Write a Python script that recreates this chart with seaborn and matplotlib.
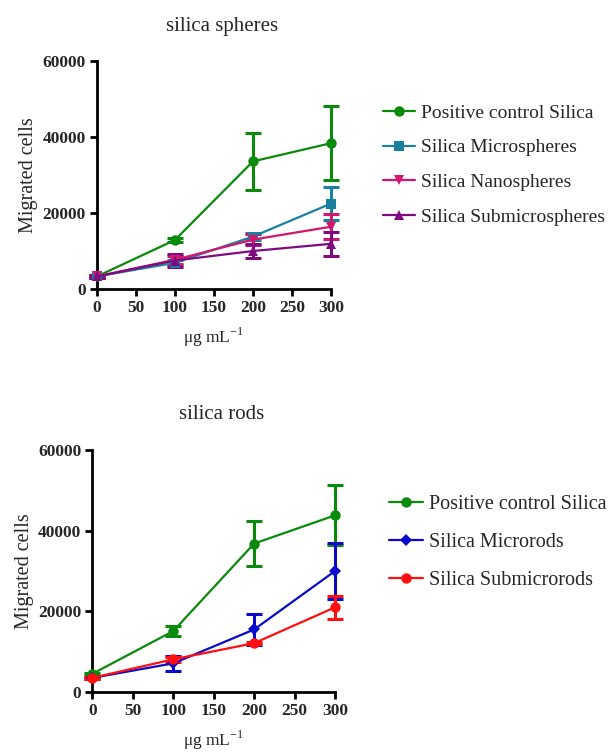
import matplotlib
matplotlib.use("Agg")
import matplotlib.pyplot as plt
import seaborn as sns
import pandas as pd
import numpy as np

# ---- data ----
doses = [0, 100, 200, 300]

sph_names = ["Positive control Silica", "Silica Microspheres", "Silica Nanospheres", "Silica Submicrospheres"]
sph_control = [3300, 12900, 33600, 38400]
sph_control_err = [300, 500, 7500, 9700]
sph_micro = [3300, 6900, 13800, 22500]
sph_micro_err = [300, 700, 1000, 4300]
sph_nano = [3300, 7700, 13000, 16400]
sph_nano_err = [300, 1000, 1500, 3300]
sph_submicro = [3300, 7500, 10000, 11900]
sph_submicro_err = [300, 1800, 1800, 3100]

rod_names = ["Positive control Silica", "Silica Microrods", "Silica Submicrorods"]
rod_control = [4500, 15100, 36800, 43800]
rod_control_err = [300, 1200, 5600, 7400]
rod_micro = [3500, 7100, 15500, 30000]
rod_micro_err = [300, 1900, 3800, 7000]
rod_submicro = [3500, 8100, 12100, 21000]
rod_submicro_err = [300, 600, 300, 2800]

sph_colors = ["#0a8a0a", "#1a80a0", "#d4166f", "#800a80"]
sph_markers = ["o", "s", "v", "^"]
rod_colors = ["#0a8a0a", "#0a0acc", "#ff1010"]
rod_markers = ["o", "D", "o"]

sns.set_theme(style="ticks")
plt.rcParams["font.family"] = ["Liberation Serif", "DejaVu Serif"]
plt.rcParams["mathtext.fontset"] = "custom"
plt.rcParams["mathtext.rm"] = "Liberation Serif"

fig = plt.figure(figsize=(6.13, 7.52), dpi=100)
ax1 = fig.add_axes([0.158, 0.6157, 0.382, 0.303])
ax2 = fig.add_axes([0.1506, 0.0798, 0.396, 0.3218])


def draw(ax, names, vals, errs, colors, markers, title, legend_xy, msizes, lspace, lfs):
    rows = []
    for n, v in zip(names, vals):
        for d, y in zip(doses, v):
            rows.append({"dose": d, "cells": y, "series": n})
    df = pd.DataFrame(rows)
    for n, v, e, c in zip(names, vals, errs, colors):
        ax.errorbar(doses, v, yerr=e, fmt="none", ecolor=c, elinewidth=2.2,
                    capsize=6, capthick=2.2, clip_on=False, zorder=2)
    n_before = len(ax.lines)
    sns.lineplot(data=df, x="dose", y="cells", hue="series", style="series",
                 palette=dict(zip(names, colors)), markers=dict(zip(names, markers)),
                 dashes=False, ax=ax, linewidth=1.6, markeredgewidth=0,
                 errorbar=None, legend=False, zorder=3)
    for line, ms in zip(ax.lines[n_before:], msizes):
        line.set_markersize(ms)
        line.set_clip_on(False)
    ax.set_xlim(0, 300)
    ax.set_ylim(0, 60000)
    ax.set_xticks([0, 50, 100, 150, 200, 250, 300])
    ax.set_yticks([0, 20000, 40000, 60000])
    for s in ["top", "right"]:
        ax.spines[s].set_visible(False)
    for s in ["left", "bottom"]:
        ax.spines[s].set_linewidth(2)
        ax.spines[s].set_color("black")
    ax.tick_params(axis="both", width=2, length=5, color="black", labelsize=12.5, pad=3)
    for lab in ax.get_xticklabels() + ax.get_yticklabels():
        lab.set_fontweight("bold")
    ax.set_title(title, fontsize=15, pad=22, x=0.534)
    ax.set_xlabel("μg mL$^{\\mathregular{-1}}$", fontsize=12.5, labelpad=7)
    ax.set_ylabel("Migrated cells", fontsize=14.5, labelpad=3)
    handles = [plt.Line2D([0], [0], color=c, marker=m, markersize=ms, linewidth=1.6,
                          markeredgewidth=0)
               for c, m, ms in zip(colors, markers, msizes)]
    fig.legend(handles, names, loc="upper left", bbox_to_anchor=legend_xy,
               frameon=False, fontsize=lfs, handlelength=1.65, handletextpad=0.3,
               labelspacing=lspace, borderaxespad=0)


draw(ax1, sph_names, [sph_control, sph_micro, sph_nano, sph_submicro],
     [sph_control_err, sph_micro_err, sph_nano_err, sph_submicro_err],
     sph_colors, sph_markers, "silica spheres", (0.612, 0.872), [7.5, 7, 7.5, 7.5], 0.88, 14)
draw(ax2, rod_names, [rod_control, rod_micro, rod_submicro],
     [rod_control_err, rod_micro_err, rod_submicro_err],
     rod_colors, rod_markers, "silica rods", (0.622, 0.352), [7.5, 6, 7.5], 0.93, 14.5)

fig.savefig("out.png", dpi=100)
